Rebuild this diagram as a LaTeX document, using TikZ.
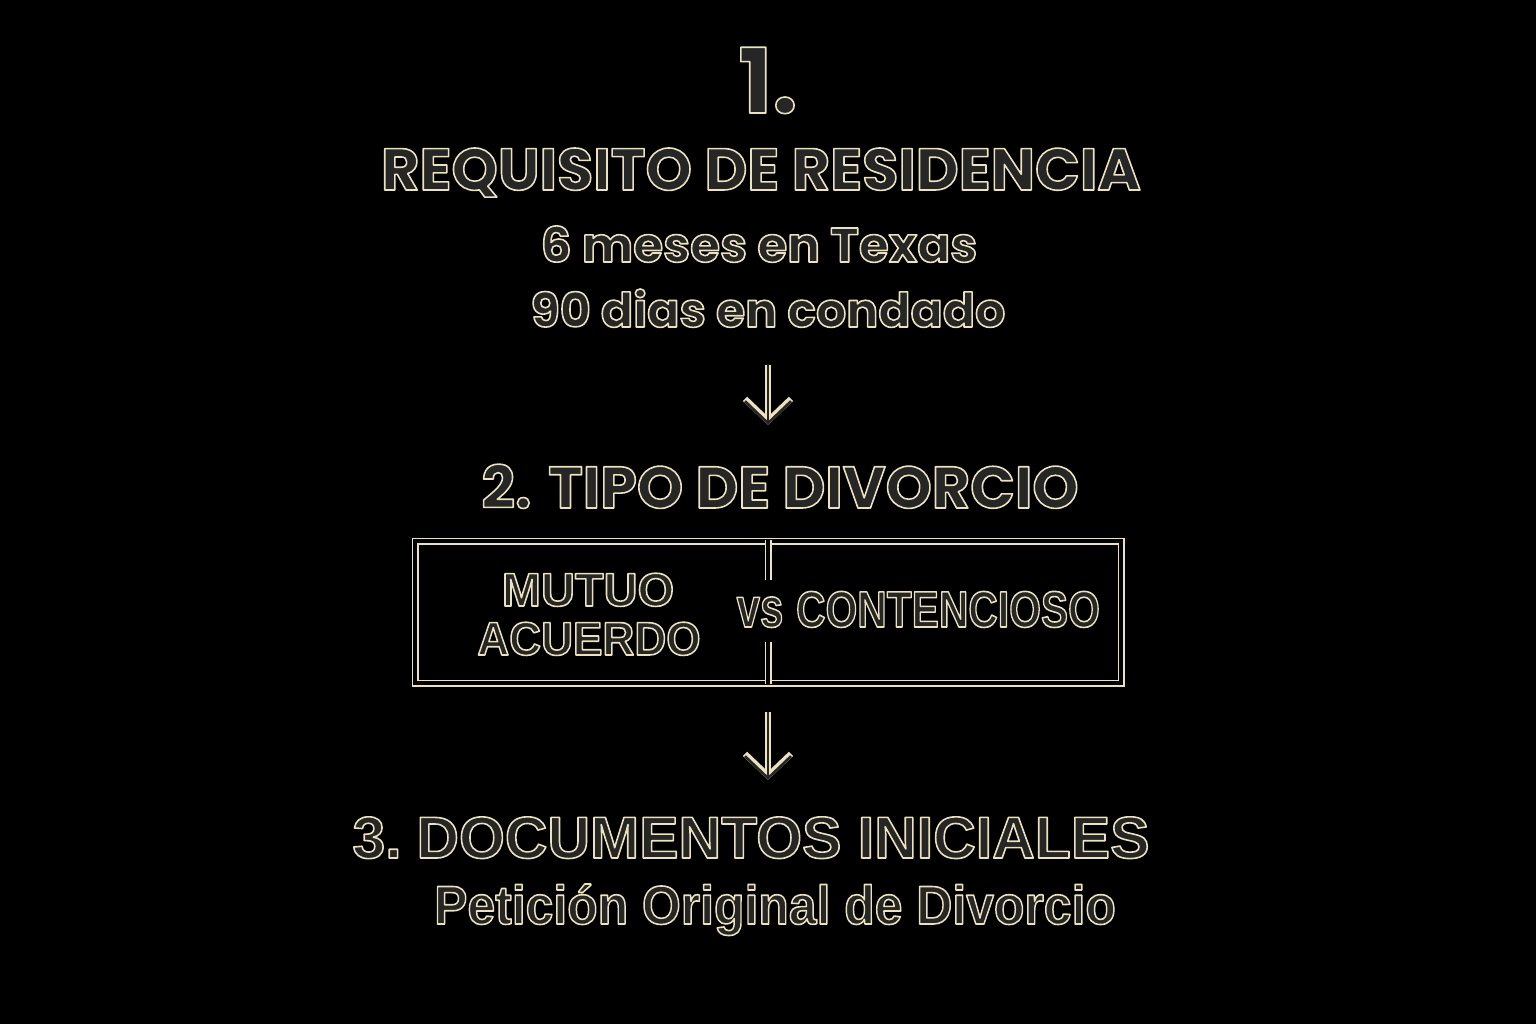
\documentclass[tikz,border=0pt]{standalone}
\usepackage{fontspec}
\setmainfont{Poppins}
\newfontfamily\arialfont{Liberation Sans}
\usetikzlibrary{arrows.meta}
\definecolor{cream}{HTML}{ECE2BE}
\definecolor{glyphgray}{HTML}{262626}
\newcommand\outlined[1]{\special{pdf:literal direct 2 Tr 1.6 w 1 j 0.925 0.886 0.745 RG}#1\special{pdf:literal direct 0 Tr}}
\tikzstyle{steptitle} = [text=glyphgray, inner sep=0pt, anchor=base, font=\bfseries\fontsize{59}{62}\selectfont]
\tikzstyle{stepline} = [text=glyphgray, inner sep=0pt, anchor=base, font=\bfseries\fontsize{48.5}{52}\selectfont]
\tikzstyle{boxtext} = [text=glyphgray, inner sep=0pt, anchor=base, font=\arialfont\bfseries\fontsize{47}{50}\selectfont]
\tikzstyle{boxline} = [draw=cream, line width=1.9pt, double=black, double distance=3.2pt]
\tikzstyle{flow} = [draw=cream, line width=6pt, -{Straight Barb[length=22pt,width=46pt]},
    postaction={draw=glyphgray, line width=2.6pt, -{Straight Barb[length=22pt,width=46pt]}}]

\begin{document}
\begin{tikzpicture}[x=1pt,y=-1pt]
    \fill[black] (0,0) rectangle (1536,1024);
    \useasboundingbox (0,0) rectangle (1536,1024);

    % step 1
    \node (num1) [steptitle, font=\bfseries\fontsize{90}{94}\selectfont] at (768,113) {\outlined{1.}};
    \node (req) [steptitle] at (761,190) {\outlined{REQUISITO DE RESIDENCIA}};
    \node (meses) [stepline] at (759,262) {\outlined{6 meses en Texas}};
    \node (dias) [stepline, font=\bfseries\fontsize{47.5}{52}\selectfont] at (768,327) {\outlined{90 dias en condado}};

    % step 2
    \node (tipo) [steptitle, font=\bfseries\fontsize{58.8}{62}\selectfont] at (780,508) {\outlined{2. TIPO DE DIVORCIO}};
    \node (tipos) [boxline, minimum width=706pt, minimum height=142pt] at (768,612) {};
    \node (mutuo) [boxtext] at (588,606) {\outlined{MUTUO}};
    \node (acuerdo) [boxtext, xscale=0.94, transform shape] at (589,655) {\outlined{ACUERDO}};
    \node (vs) [boxtext, font=\arialfont\bfseries\fontsize{56}{60}\selectfont, xscale=0.75, transform shape] at (760,627) {\outlined{vs}};
    \node (cont) [boxtext, font=\arialfont\bfseries\fontsize{51}{54}\selectfont, xscale=0.8, transform shape] at (948,627) {\outlined{CONTENCIOSO}};
    \coordinate (divtop) at (768,580);
    \coordinate (divbot) at (768,642);
    \draw [boxline] (tipos.north) -- (divtop);
    \draw [boxline] (divbot) -- (tipos.south);

    % step 3
    \node (docs) [boxtext, font=\arialfont\bfseries\fontsize{59}{62}\selectfont] at (751,858) {\outlined{3.\hspace{-0.12em} DOCUMENTOS INICIALES}};
    \node (peticion) [boxtext, font=\arialfont\bfseries\fontsize{54.5}{58}\selectfont, xscale=0.915, transform shape] at (775,924) {\outlined{Petición Original de Divorcio}};

    % arrows
    \coordinate (a1s) at (768,365);
    \coordinate (a1e) at (768,425);
    \coordinate (a2s) at (768,712);
    \coordinate (a2e) at (768,780);
    \draw [flow] (a1s) -- (a1e);
    \draw [flow] (a2s) -- (a2e);
\end{tikzpicture}
\end{document}
